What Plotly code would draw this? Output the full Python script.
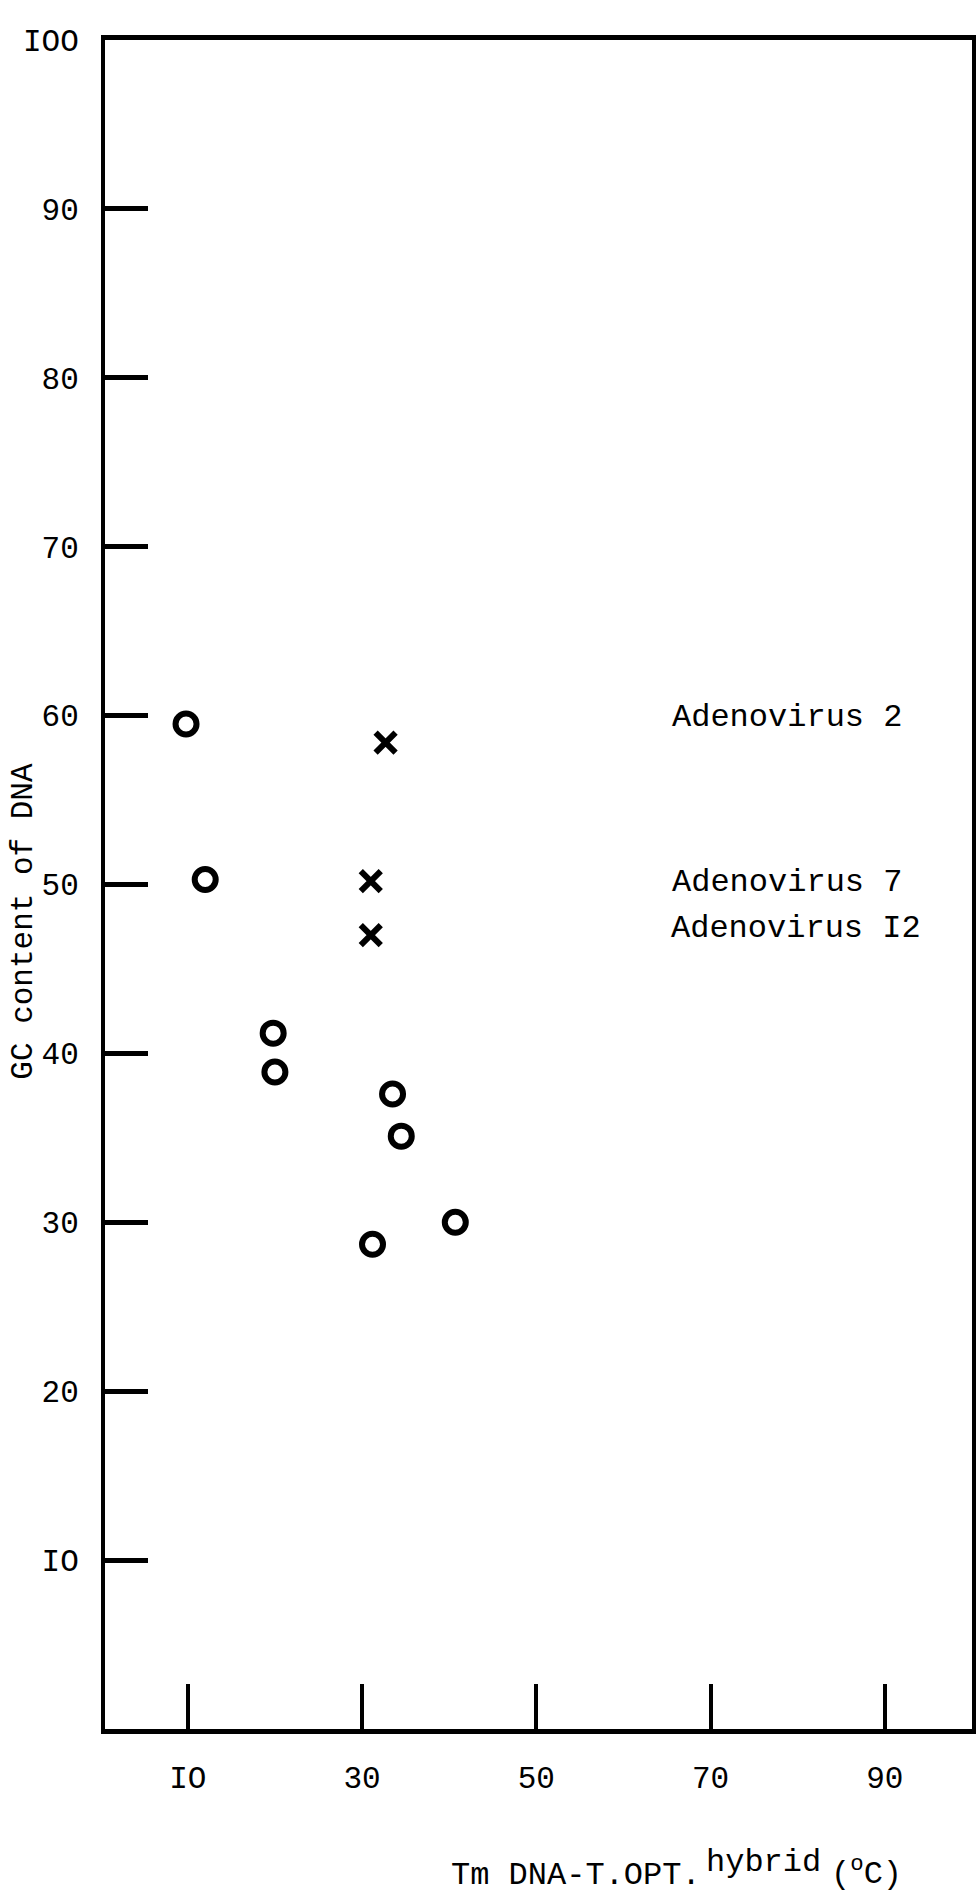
import plotly.graph_objects as go

# Reference DNAs (open circles): Tm difference vs GC content
circle_tm = [9.8, 12.0, 19.8, 20.0, 33.5, 34.5, 40.7, 31.2]
circle_gc = [59.5, 50.3, 41.2, 38.9, 37.6, 35.1, 30.0, 28.7]

# Adenovirus DNAs (crosses)
cross_tm = [32.7, 31.0, 31.0]
cross_gc = [58.4, 50.2, 47.0]
cross_names = ["Adenovirus 2", "Adenovirus 7", "Adenovirus I2"]
label_x = [65.3, 65.3, 65.2]
label_y = [59.9, 50.1, 47.4]

# Axis ticks (typewriter "I" stands for the digit one)
x_tickvals = [10, 30, 50, 70, 90]
x_ticktext = ["IO", "30", "50", "70", "90"]
y_tickvals = [10, 20, 30, 40, 50, 60, 70, 80, 90, 100]
y_ticktext = ["IO", "20", "30", "40", "50", "60", "70", "80", "90", "IOO"]

FONT = "Liberation Mono, Courier New, monospace"

fig = go.Figure()

fig.add_trace(go.Scatter(
    x=circle_tm, y=circle_gc, mode="markers",
    marker=dict(symbol="circle-open", size=21, color="black",
                line=dict(width=6, color="black")),
    showlegend=False, hoverinfo="skip",
))

fig.add_trace(go.Scatter(
    x=cross_tm, y=cross_gc, mode="markers",
    marker=dict(symbol="x-thin-open", size=20, color="black",
                line=dict(width=6, color="black")),
    showlegend=False, hoverinfo="skip",
))

for name, lx, ly in zip(cross_names, label_x, label_y):
    fig.add_annotation(x=lx, y=ly, xref="x", yref="y", text=name,
                       showarrow=False, xanchor="left", yanchor="middle",
                       font=dict(family=FONT, size=32, color="black"))

# y-axis title
fig.add_annotation(x=-0.0934, y=0.478, xref="paper", yref="paper",
                   text="GC content of DNA", textangle=-90, showarrow=False,
                   xanchor="center", yanchor="middle",
                   font=dict(family=FONT, size=31, color="black"))

# x-axis title, set in three pieces so the raised "hybrid" keeps full size
title_parts = ["Tm DNA-T.OPT.", "hybrid", "(<sup>o</sup>C)"]
title_x = [0.3968, 0.691, 0.835]
title_y = [-0.0866, -0.0788, -0.0848]
for part, tx, ty in zip(title_parts, title_x, title_y):
    fig.add_annotation(x=tx, y=ty, xref="paper", yref="paper", text=part,
                       showarrow=False, xanchor="left", yanchor="middle",
                       font=dict(family=FONT, size=32, color="black"))

fig.update_xaxes(
    range=[0.5, 100], showgrid=False, zeroline=False,
    showline=True, linewidth=5, linecolor="black", mirror=True,
    tickmode="array", tickvals=x_tickvals, ticktext=x_ticktext,
    ticks="inside", ticklen=45, tickwidth=4, tickcolor="black",
    ticklabelstandoff=17,
    tickfont=dict(family=FONT, size=31, color="black"),
)
fig.update_yaxes(
    range=[0, 100], showgrid=False, zeroline=False,
    showline=True, linewidth=4, linecolor="black", mirror=True,
    tickmode="array", tickvals=y_tickvals, ticktext=y_ticktext,
    ticks="inside", ticklen=43, tickwidth=5, tickcolor="black",
    ticklabelstandoff=16,
    tickfont=dict(family=FONT, size=31, color="black"),
)

fig.update_layout(
    width=977, height=1895,
    margin=dict(l=105, r=5, t=40, b=166, autoexpand=False),
    plot_bgcolor="white", paper_bgcolor="white",
    font=dict(family=FONT, color="black"),
)

fig.write_html("out.html")
